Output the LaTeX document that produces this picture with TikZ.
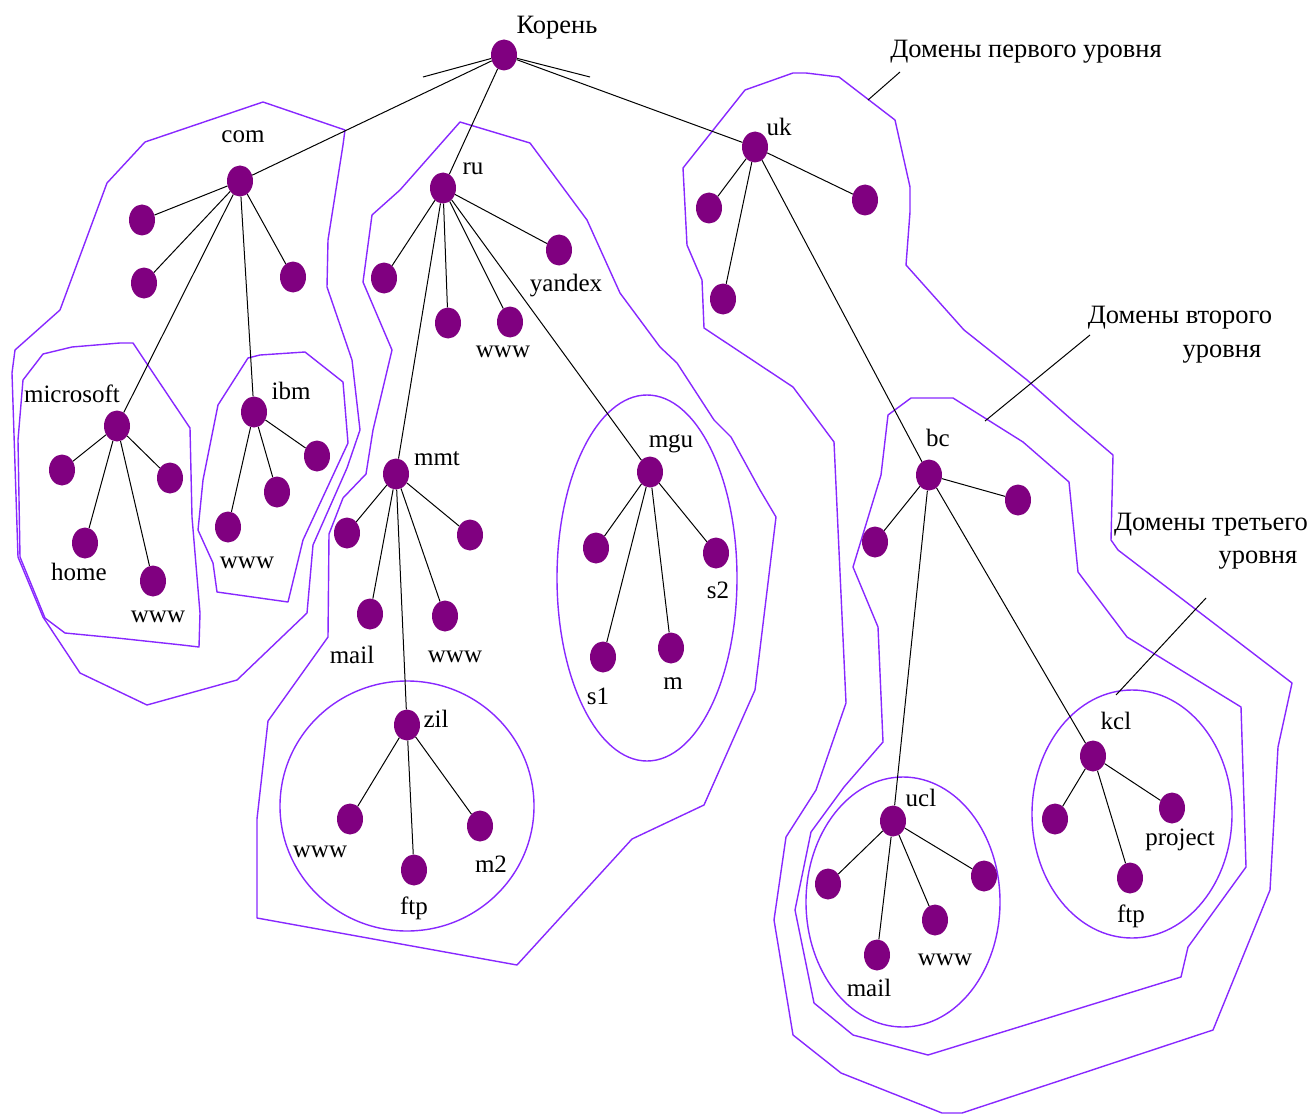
\documentclass[tikz,border=0pt]{standalone}
\usepackage{fontspec}
\setmainfont{Liberation Serif}
\usetikzlibrary{shapes.geometric}
\definecolor{hostpurple}{RGB}{128,0,128}
\definecolor{zoneviolet}{RGB}{136,40,255}
\begin{document}
\begin{tikzpicture}[x=1pt,y=-1pt,
  host/.style={ellipse,fill=hostpurple,draw=none,minimum width=26pt,minimum height=31pt,inner sep=0pt},
  link/.style={draw=black,line width=1pt},
  zone/.style={draw=zoneviolet,line width=1.4pt,line join=round},
  lbl/.style={inner sep=0pt,font=\fontsize{25}{29}\selectfont},
  note/.style={inner sep=0pt,font=\fontsize{26.5}{30}\selectfont},
  pointer/.style={draw=black,line width=1pt}]
\useasboundingbox (0,0) rectangle (1313,1115);
\fill[white] (0,0) rectangle (1313,1115);

% ---- zone outlines ----
% com
\draw[zone] (145,142) -- (263,102) -- (345,130) -- (343,145) -- (328,240) -- (327,287) -- (352,360) -- (360,430) -- (347,468) -- (313,545) -- (307,613) -- (237,680) -- (147,705) -- (80,673) -- (43,617) -- (18,557) -- (12,373) -- (15,350) -- (60,310) -- (107,183) -- cycle;
% microsoft
\draw[zone] (23,380) -- (43,354) -- (72,347) -- (120,343) -- (133,343) -- (190,428) -- (192,517) -- (200,613) -- (199,647) -- (182,645) -- (117,638) -- (65,633) -- (45,618) -- (20,557) -- (18,440) -- cycle;
% ibm
\draw[zone] (248,358) -- (260,355) -- (305,352) -- (343,382) -- (348,443) -- (303,540) -- (288,602) -- (217,592) -- (213,563) -- (198,530) -- (203,480) -- (218,405) -- cycle;
% ru
\draw[zone] (460,122) -- (530,143) -- (587,220) -- (620,293) -- (660,347) -- (677,363) -- (714,420) -- (731,437) -- (760,490) -- (776,517) -- (755,690) -- (704,805) -- (632,839) -- (517,965) -- (257,918) -- (257,819) -- (268,721) -- (328,637) -- (329,534) -- (343,498) -- (366,474) -- (373,430) -- (392,350) -- (363,282) -- (372,215) -- (400,190) -- cycle;
% uk
\draw[zone] (745,90) -- (793,73) -- (806,73) -- (839,77) -- (895,120) -- (910,187) -- (910,212) -- (906,265) -- (964,330) -- (1027,380) -- (1072,420) -- (1113,455) -- (1111,540) -- (1118,550) -- (1292,683) -- (1278,747) -- (1270,890) -- (1213,1030) -- (962,1113) -- (942,1113) -- (841,1073) -- (793,1035) -- (774,920) -- (786,837) -- (816,790) -- (846,703) -- (834,442) -- (793,387) -- (704,328) -- (702,280) -- (687,245) -- (683,168) -- cycle;
% bc
\draw[zone] (911,398) -- (953,398) -- (1023,442) -- (1069,482) -- (1078,572) -- (1127,637) -- (1241,707) -- (1246,867) -- (1188,947) -- (1181,977) -- (928,1055) -- (853,1035) -- (814,1003) -- (795,910) -- (811,832) -- (844,787) -- (883,742) -- (878,627) -- (853,567) -- (881,475) -- (888,415) -- cycle;
% third-level ellipses
\draw[zone] (407,806) ellipse [x radius=127pt, y radius=125pt];
\draw[zone] (647,578) ellipse [x radius=90pt, y radius=183pt];
\draw[zone] (903,902) ellipse [x radius=97pt, y radius=125pt];
\draw[zone] (1132,814) ellipse [x radius=100pt, y radius=124pt];

% ---- hosts ----
\node[host] (root) at (504,55) {};
\node[host] (com) at (240,181) {};
\node[host] (ru) at (443,188) {};
\node[host] (uk) at (755,147) {};

\node[host] (com1) at (142,220) {};
\node[host] (com2) at (144,283) {};
\node[host] (com3) at (293,277) {};
\node[host] (ms) at (117,426) {};
\node[host] (ibm) at (254,412) {};

\node[host] (ms1) at (62,470) {};
\node[host] (ms2) at (170,478) {};
\node[host] (mshome) at (85,543) {};
\node[host] (mswww) at (153,581) {};

\node[host] (ibmwww) at (228,527) {};
\node[host] (ibm2) at (277,492) {};
\node[host] (ibm3) at (317,456) {};

\node[host] (ru1) at (384,278) {};
\node[host] (ru2) at (448,323) {};
\node[host] (ruwww) at (510,322) {};
\node[host] (yandex) at (559,250) {};
\node[host] (mmt) at (396,474) {};
\node[host] (mgu) at (650,472) {};

\node[host] (mmt1) at (347,533) {};
\node[host] (mmt2) at (470,535) {};
\node[host] (mmtmail) at (370,614) {};
\node[host] (mmtwww) at (445,616) {};
\node[host] (zil) at (407,725) {};

\node[host] (zilwww) at (350,819) {};
\node[host] (zilftp) at (414,870) {};
\node[host] (zilm2) at (480,826) {};

\node[host] (mgu1) at (596,548) {};
\node[host] (mgus2) at (716,553) {};
\node[host] (mgus1) at (603,657) {};
\node[host] (mgum) at (671,648) {};

\node[host] (uk1) at (709,208) {};
\node[host] (uk2) at (723,299) {};
\node[host] (uk3) at (865,200) {};
\node[host] (bc) at (929,475) {};

\node[host] (bc1) at (875,542) {};
\node[host] (bc2) at (1018,500) {};
\node[host] (ucl) at (893,821) {};
\node[host] (kcl) at (1093,756) {};

\node[host] (ucl1) at (828,884) {};
\node[host] (uclmail) at (877,955) {};
\node[host] (uclwww) at (935,920) {};
\node[host] (ucl4) at (984,876) {};

\node[host] (kcl1) at (1055,819) {};
\node[host] (kclproj) at (1172,808) {};
\node[host] (kclftp) at (1130,878) {};

% ---- links ----
\coordinate (stubL) at (423,77);
\coordinate (stubR) at (590,77);
\draw[link] (root) -- (stubL);
\draw[link] (root) -- (stubR);
\foreach \a/\b in {root/com, root/ru, root/uk,
  com/com1, com/com2, com/com3, com/ms, com/ibm,
  ms/ms1, ms/ms2, ms/mshome, ms/mswww,
  ibm/ibmwww, ibm/ibm2, ibm/ibm3,
  ru/ru1, ru/ru2, ru/ruwww, ru/yandex, ru/mmt, ru/mgu,
  mmt/mmt1, mmt/mmt2, mmt/mmtmail, mmt/mmtwww, mmt/zil,
  zil/zilwww, zil/zilftp, zil/zilm2,
  mgu/mgu1, mgu/mgus2, mgu/mgus1, mgu/mgum,
  uk/uk1, uk/uk2, uk/uk3, uk/bc,
  bc/bc1, bc/bc2, bc/ucl, bc/kcl,
  ucl/ucl1, ucl/uclmail, ucl/uclwww, ucl/ucl4,
  kcl/kcl1, kcl/kclproj, kcl/kclftp}
  \draw[link] (\a) -- (\b);

% ---- labels ----
\node[note] (t-root) at (557,28) {Корень};
\node[lbl] (t-com) at (243,137) {com};
\node[lbl] (t-ru) at (473,169) {ru};
\node[lbl] (t-uk) at (779,127) {uk};
\node[lbl] (t-ms) at (72,394) {microsoft};
\node[lbl] (t-ibm) at (291,391) {ibm};
\node[lbl] (t-home) at (79,572) {home};
\node[lbl] (t-mswww) at (158,617) {www};
\node[lbl] (t-ibmwww) at (247,563) {www};
\node[lbl] (t-yandex) at (566,286) {yandex};
\node[lbl] (t-ruwww) at (503,352) {www};
\node[lbl] (t-mmt) at (437,459) {mmt};
\node[lbl] (t-mgu) at (671,444) {mgu};
\node[lbl] (t-mmtmail) at (352,655) {mail};
\node[lbl] (t-mmtwww) at (455,657) {www};
\node[lbl] (t-zil) at (436,719) {zil};
\node[lbl] (t-zilwww) at (320,852) {www};
\node[lbl] (t-zilftp) at (414,908) {ftp};
\node[lbl] (t-zilm2) at (491,864) {m2};
\node[lbl] (t-s2) at (718,590) {s2};
\node[lbl] (t-s1) at (598,696) {s1};
\node[lbl] (t-m) at (673,684) {m};
\node[lbl] (t-bc) at (938,438) {bc};
\node[lbl] (t-ucl) at (921,798) {ucl};
\node[lbl] (t-kcl) at (1116,721) {kcl};
\node[lbl] (t-uclmail) at (869,988) {mail};
\node[lbl] (t-uclwww) at (945,960) {www};
\node[lbl] (t-proj) at (1180,840) {project};
\node[lbl] (t-kclftp) at (1131,916) {ftp};

\node[note] (lvl1) at (1026,52) {Домены первого уровня};
\node[note] (lvl2a) at (1180,318) {Домены второго};
\node[note] (lvl2b) at (1222,354) {уровня};
\node[note] (lvl3a) at (1211,525) {Домены третьего};
\node[note] (lvl3b) at (1258,560) {уровня};

% ---- level pointers ----
\coordinate (lvl1from) at (900,72);
\coordinate (lvl1to) at (868,100);
\coordinate (lvl2from) at (1090,335);
\coordinate (lvl2to) at (985,421);
\coordinate (lvl3from) at (1206,598);
\coordinate (lvl3to) at (1116,695);
\draw[pointer] (lvl1from) -- (lvl1to);
\draw[pointer] (lvl2from) -- (lvl2to);
\draw[pointer] (lvl3from) -- (lvl3to);
\end{tikzpicture}
\end{document}
